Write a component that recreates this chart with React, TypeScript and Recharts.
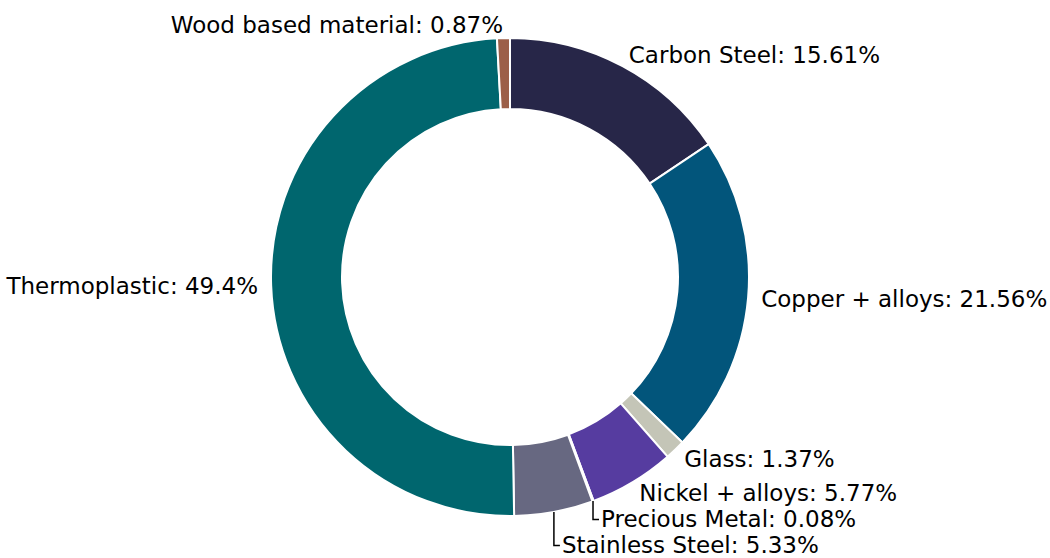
import { PieChart, Pie, Cell } from 'recharts';

const materials = [
  'Carbon Steel',
  'Copper + alloys',
  'Glass',
  'Nickel + alloys',
  'Precious Metal',
  'Stainless Steel',
  'Thermoplastic',
  'Wood based material',
];
const shares = [15.61, 21.56, 1.37, 5.77, 0.08, 5.33, 49.4, 0.87];
const colors = ['#272648', '#02557b', '#c4c5b7', '#563ca0', '#8a6f2e', '#676881', '#00666e', '#9c5f48'];

const data = materials.map((name, i) => ({ name, value: shares[i] }));

const CX = 510;
const CY = 277;
const OUTER = 239;
const INNER = 168;
const LABEL_R = OUTER * 1.055;
const MIN_GAP = 26;
const FONT = 23;
const RAD = Math.PI / 180;

// where each label ends up, pushing crowded ones downward on the right side
const total = shares.reduce((a, b) => a + b, 0);
const layout = (() => {
  let cum = 0;
  let prevY = -Infinity;
  let prevRight = false;
  return shares.map((v) => {
    const mid = 90 - (360 * (cum + v / 2)) / total;
    cum += v;
    const cos = Math.cos(mid * RAD);
    const sin = Math.sin(mid * RAD);
    const x = CX + LABEL_R * cos;
    let y = CY - LABEL_R * sin;
    const right = cos > 0.001;
    let moved = false;
    if (right && prevRight && y > CY && y < prevY + MIN_GAP) {
      y = prevY + MIN_GAP;
      moved = true;
    }
    prevY = y;
    prevRight = right;
    return {
      x,
      y,
      moved,
      ax: CX + OUTER * cos,
      ay: CY - OUTER * sin,
      anchor: right ? 'start' : 'end',
    };
  });
})();

const renderLabel = (props: any) => {
  const i = props.index;
  const l = layout[i];
  const text = `${materials[i]}: ${shares[i]}%`;
  if (l.moved) {
    const tx = l.ax + 8;
    return (
      <g key={`lbl-${i}`}>
        <polyline
          points={`${l.ax},${l.ay} ${l.ax},${l.y} ${tx - 2},${l.y}`}
          fill="none"
          stroke="#000"
          strokeWidth={1.5}
        />
        <text x={tx} y={l.y} textAnchor="start" dominantBaseline="central" fill="#000" fontSize={FONT}>
          {text}
        </text>
      </g>
    );
  }
  return (
    <text
      key={`lbl-${i}`}
      x={l.x}
      y={l.y}
      textAnchor={l.anchor}
      dominantBaseline="central"
      fill="#000"
      fontSize={FONT}
    >
      {text}
    </text>
  );
};

export default function App() {
  return (
    <div style={{ width: 1050, height: 558, fontFamily: '"DejaVu Sans", sans-serif', background: '#fff' }}>
      <style>{'body{margin:0}'}</style>
      <PieChart width={1050} height={558} margin={{ top: 0, right: 0, bottom: 0, left: 0 }}>
        <Pie
          data={data}
          dataKey="value"
          nameKey="name"
          cx={CX}
          cy={CY}
          innerRadius={INNER}
          outerRadius={OUTER}
          startAngle={90}
          endAngle={-270}
          stroke="#ffffff"
          strokeWidth={2}
          label={renderLabel}
          labelLine={false}
          isAnimationActive={false}
        >
          {data.map((d, i) => (
            <Cell key={d.name} fill={colors[i]} />
          ))}
        </Pie>
      </PieChart>
    </div>
  );
}
